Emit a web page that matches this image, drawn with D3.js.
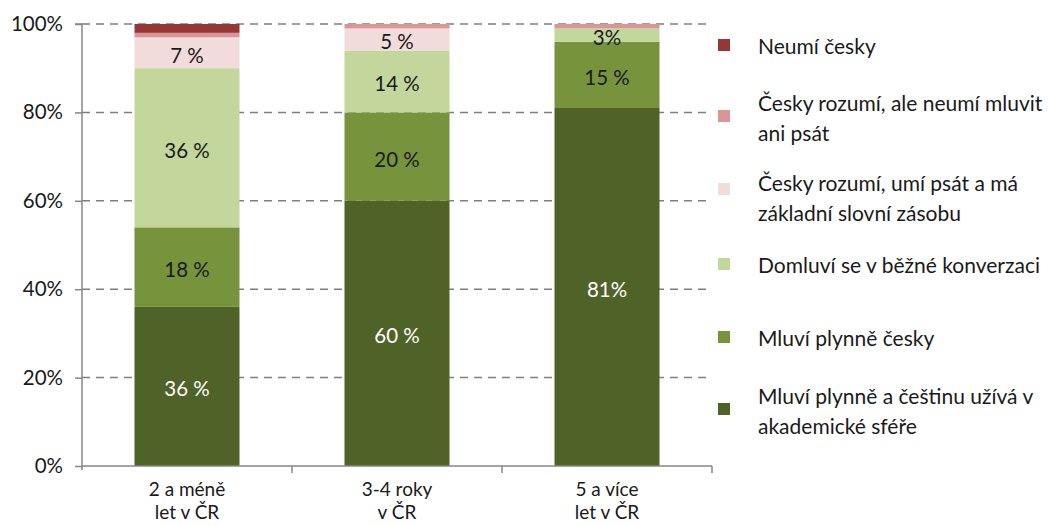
<!DOCTYPE html>
<html><head><meta charset="utf-8">
<script src="https://cdn.jsdelivr.net/npm/d3@7"></script>
<style>body{margin:0;background:#fff}svg{display:block}text{font-family:Lato,"Open Sans",sans-serif}</style>
</head><body><svg id="c" width="1048" height="526"></svg>
<script>
const categories = [["2 a méně","let v ČR"],["3-4 roky","v ČR"],["5 a více","let v ČR"]];
const seriesNames = ["Mluví plynně a češtinu užívá v\nakademické sféře","Mluví plynně česky","Domluví se v běžné konverzaci","Česky rozumí, umí psát a má\nzákladní slovní zásobu","Česky rozumí, ale neumí mluvit\nani psát","Neumí česky"];
const academic = [36,60,81];
const fluent = [18,20,15];
const conversation = [36,14,3];
const basicWrite = [7,5,0];
const understandOnly = [1,1,1];
const none = [2,0,0];
const academicLabels = ["36 %","60 %","81%"];
const fluentLabels = ["18 %","20 %","15 %"];
const conversationLabels = ["36 %","14 %","3%"];
const basicWriteLabels = ["7 %","5 %",""];
const yTicks = [0,20,40,60,80,100];
const colors = ["#4f6228","#77933c","#c3d69b","#f2dcdb","#d99694","#953735"];
const labelColors = ["#ffffff","#1a1a1a","#1a1a1a","#1a1a1a","#1a1a1a","#1a1a1a"];

const FS = 20.5;
const allSeries = [academic,fluent,conversation,basicWrite,understandOnly,none];
const allLabels = [academicLabels,fluentLabels,conversationLabels,basicWriteLabels,null,null];
const rows = categories.map((c,i)=>{const r={i}; allSeries.forEach((s,k)=>r["s"+k]=s[i]); return r;});
const keys = allSeries.map((s,k)=>"s"+k);
const stack = d3.stack().keys(keys)(rows);

const svg = d3.select("#c");
const x = d3.scaleBand().domain([0,1,2]).range([82,712]).paddingInner(0.5).paddingOuter(0.25);
const y = d3.scaleLinear().domain([0,100]).range([466,24]);

// grid
svg.append("g").selectAll("line").data(yTicks.filter(d=>d>0)).join("line")
 .attr("x1",82).attr("x2",712).attr("y1",d=>y(d)).attr("y2",d=>y(d))
 .attr("stroke","#7f7f7f").attr("stroke-width",1.5).attr("stroke-dasharray","8,6");

// bars
stack.forEach((layer,k)=>{
  svg.append("g").selectAll("rect").data(layer).join("rect")
   .attr("x",d=>x(d.data.i)).attr("width",x.bandwidth())
   .attr("y",d=>y(d[1])).attr("height",d=>y(d[0])-y(d[1]))
   .attr("fill",colors[k]);
});
// labels
stack.forEach((layer,k)=>{
  const labs = allLabels[k]; if(!labs) return;
  svg.append("g").selectAll("text").data(layer).join("text")
   .attr("x",d=>x(d.data.i)+x.bandwidth()/2).attr("y",d=>(y(d[0])+y(d[1]))/2+2)
   .attr("text-anchor","middle").attr("dominant-baseline","central")
   .attr("font-size",FS).attr("fill",labelColors[k])
   .text((d,j)=>labs[j]);
});

// y axis
const ya = svg.append("g").attr("transform","translate(82,0)")
 .call(d3.axisLeft(y).tickValues(yTicks).tickFormat(d=>d+"%").tickSize(7).tickPadding(12));
ya.select(".domain").attr("stroke","#868686").attr("stroke-width",1.5).attr("d","M-7,24H0V470");
ya.selectAll(".tick line").attr("stroke","#868686").attr("stroke-width",1.5);
ya.selectAll(".tick text").attr("font-size",FS).attr("fill","#1a1a1a").attr("font-family","Lato");

// x axis
svg.append("line").attr("x1",82).attr("x2",712).attr("y1",466).attr("y2",466).attr("stroke","#868686").attr("stroke-width",1.5);
const bounds = [1,2].map(i=>x(i)-x.step()*x.paddingInner()/2);
svg.append("g").selectAll("line").data(bounds).join("line")
 .attr("x1",d=>d).attr("x2",d=>d).attr("y1",466).attr("y2",473).attr("stroke","#868686").attr("stroke-width",1.5);
svg.append("line").attr("x1",712).attr("x2",712).attr("y1",466).attr("y2",473).attr("stroke","#868686").attr("stroke-width",1.5);
const xl = svg.append("g").selectAll("text").data(categories).join("text")
 .attr("x",(d,i)=>x(i)+x.bandwidth()/2).attr("y",496).attr("text-anchor","middle")
 .attr("font-size",19).attr("fill","#1a1a1a");
xl.selectAll("tspan").data(d=>d).join("tspan").attr("x",function(){return this.parentNode.getAttribute("x");})
 .attr("dy",(d,j)=>j?23:0).text(d=>d);

// legend
const legendOrder = [5,4,3,2,1,0];
const legCenters = [45,116,189,264,337,409];
const lg = svg.append("g").selectAll("g").data(legendOrder).join("g")
 .attr("transform",(k,j)=>`translate(718,${legCenters[j]})`);
lg.append("rect").attr("x",0).attr("y",-6).attr("width",12).attr("height",12).attr("fill",k=>colors[k]);
lg.each(function(k){
  const lines = seriesNames[k].split("\n");
  const t = d3.select(this).append("text").attr("x",40).attr("font-size",21).attr("fill","#1a1a1a").attr("dominant-baseline","central");
  const off = lines.length===1?0:(k===3?-7:-14);
  lines.forEach((l,j)=>t.append("tspan").attr("x",40).attr("y",off+j*30).text(l));
});
</script></body></html>
